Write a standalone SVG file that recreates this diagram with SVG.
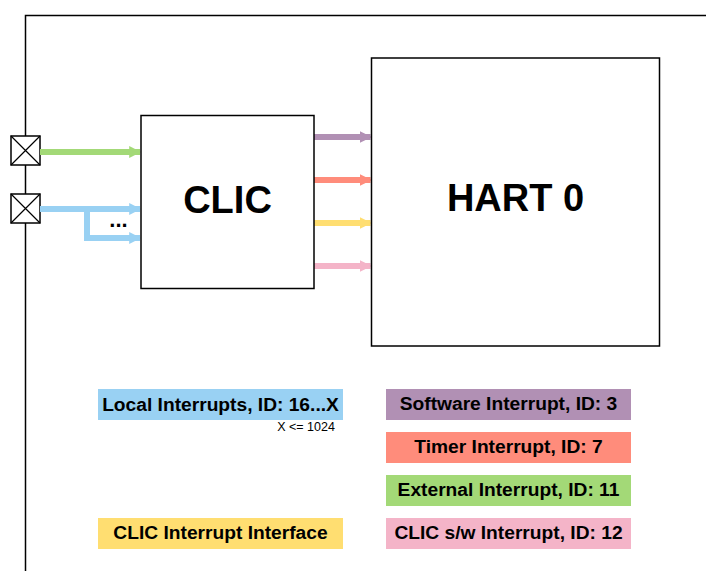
<svg xmlns="http://www.w3.org/2000/svg" width="706" height="571" viewBox="0 0 706 571">
<style>
.frame{fill:none;stroke:#000;stroke-width:1.5}
.box{fill:#fff;stroke:#000;stroke-width:1.5}
.pad{fill:#fff;stroke:#000;stroke-width:1.5}
.big{font-family:"Liberation Sans",Arial,sans-serif;font-weight:bold;font-size:38px;text-anchor:middle;fill:#000}
.leg{font-family:"Liberation Sans",Arial,sans-serif;font-weight:bold;font-size:19.2px;text-anchor:middle;fill:#000}
.small{font-family:"Liberation Sans",Arial,sans-serif;font-size:12.5px;text-anchor:middle;fill:#000}
.w{fill:none;stroke-width:6}
</style>
<defs>
<marker id="ag" viewBox="0 0 10 10" refX="9" refY="5" markerWidth="2" markerHeight="2.6" orient="auto" markerUnits="strokeWidth"><path d="M0,0L10,5L0,10z" fill="#A3D977"/></marker>
<marker id="ab" viewBox="0 0 10 10" refX="9" refY="5" markerWidth="2" markerHeight="2.6" orient="auto" markerUnits="strokeWidth"><path d="M0,0L10,5L0,10z" fill="#99D1F3"/></marker>
<marker id="ap" viewBox="0 0 10 10" refX="9" refY="5" markerWidth="2" markerHeight="2.6" orient="auto" markerUnits="strokeWidth"><path d="M0,0L10,5L0,10z" fill="#B190B4"/></marker>
<marker id="ar" viewBox="0 0 10 10" refX="9" refY="5" markerWidth="2" markerHeight="2.6" orient="auto" markerUnits="strokeWidth"><path d="M0,0L10,5L0,10z" fill="#FF8C7B"/></marker>
<marker id="ay" viewBox="0 0 10 10" refX="9" refY="5" markerWidth="2" markerHeight="2.6" orient="auto" markerUnits="strokeWidth"><path d="M0,0L10,5L0,10z" fill="#FFDE71"/></marker>
<marker id="ak" viewBox="0 0 10 10" refX="9" refY="5" markerWidth="2" markerHeight="2.6" orient="auto" markerUnits="strokeWidth"><path d="M0,0L10,5L0,10z" fill="#F4B4C8"/></marker>
</defs>
<rect width="706" height="571" fill="#fff"/>
<g id="frame"><path class="frame" d="M25.5,571V15.5H706"/></g>
<g id="pad1"><rect class="pad" x="11" y="136" width="29" height="29"/><path d="M11,136L40,165M40,136L11,165" stroke="#000" stroke-width="1.2"/></g>
<g id="pad2"><rect class="pad" x="11" y="194" width="29" height="29"/><path d="M11,194L40,223M40,194L11,223" stroke="#000" stroke-width="1.2"/></g>
<g id="connectors">
<path class="w" stroke="#A3D977" d="M40,152H140" marker-end="url(#ag)"/>
<path class="w" stroke="#99D1F3" d="M40,209H140" marker-end="url(#ab)"/>
<path class="w" stroke="#99D1F3" d="M87,209V238H140" marker-end="url(#ab)"/>
<path class="w" stroke="#B190B4" d="M314,137H370.5" marker-end="url(#ap)"/>
<path class="w" stroke="#FF8C7B" d="M314,180H370.5" marker-end="url(#ar)"/>
<path class="w" stroke="#FFDE71" d="M314,223H370.5" marker-end="url(#ay)"/>
<path class="w" stroke="#F4B4C8" d="M314,266H370.5" marker-end="url(#ak)"/>
<text x="118.5" y="227" class="leg" style="font-size:22px">...</text>
</g>
<g id="clic"><rect class="box" x="141" y="115.5" width="173" height="173"/><text x="227.5" y="213" class="big">CLIC</text></g>
<g id="hart"><rect class="box" x="371.5" y="58" width="288" height="288"/><text x="515.5" y="211" class="big">HART 0</text></g>
<g id="leg-local"><rect x="98" y="389" width="245" height="31" fill="#99D1F3"/><text x="220.5" y="410.5" class="leg">Local Interrupts, ID: 16...X</text><text x="306" y="431" class="small">X &lt;= 1024</text></g>
<g id="leg-sw"><rect x="386" y="389" width="245" height="31" fill="#B190B4"/><text x="508.5" y="410" class="leg">Software Interrupt, ID: 3</text></g>
<g id="leg-timer"><rect x="386" y="432" width="245" height="31" fill="#FF8C7B"/><text x="508.5" y="453" class="leg">Timer Interrupt, ID: 7</text></g>
<g id="leg-ext"><rect x="386" y="475" width="245" height="31" fill="#A3D977"/><text x="508.5" y="496" class="leg">External Interrupt, ID: 11</text></g>
<g id="leg-clicsw"><rect x="386" y="518" width="245" height="31" fill="#F4B4C8"/><text x="508.5" y="539" class="leg">CLIC s/w Interrupt, ID: 12</text></g>
<g id="leg-clicif"><rect x="98" y="518" width="245" height="31" fill="#FFDE71"/><text x="220.5" y="539" class="leg">CLIC Interrupt Interface</text></g>
</svg>
